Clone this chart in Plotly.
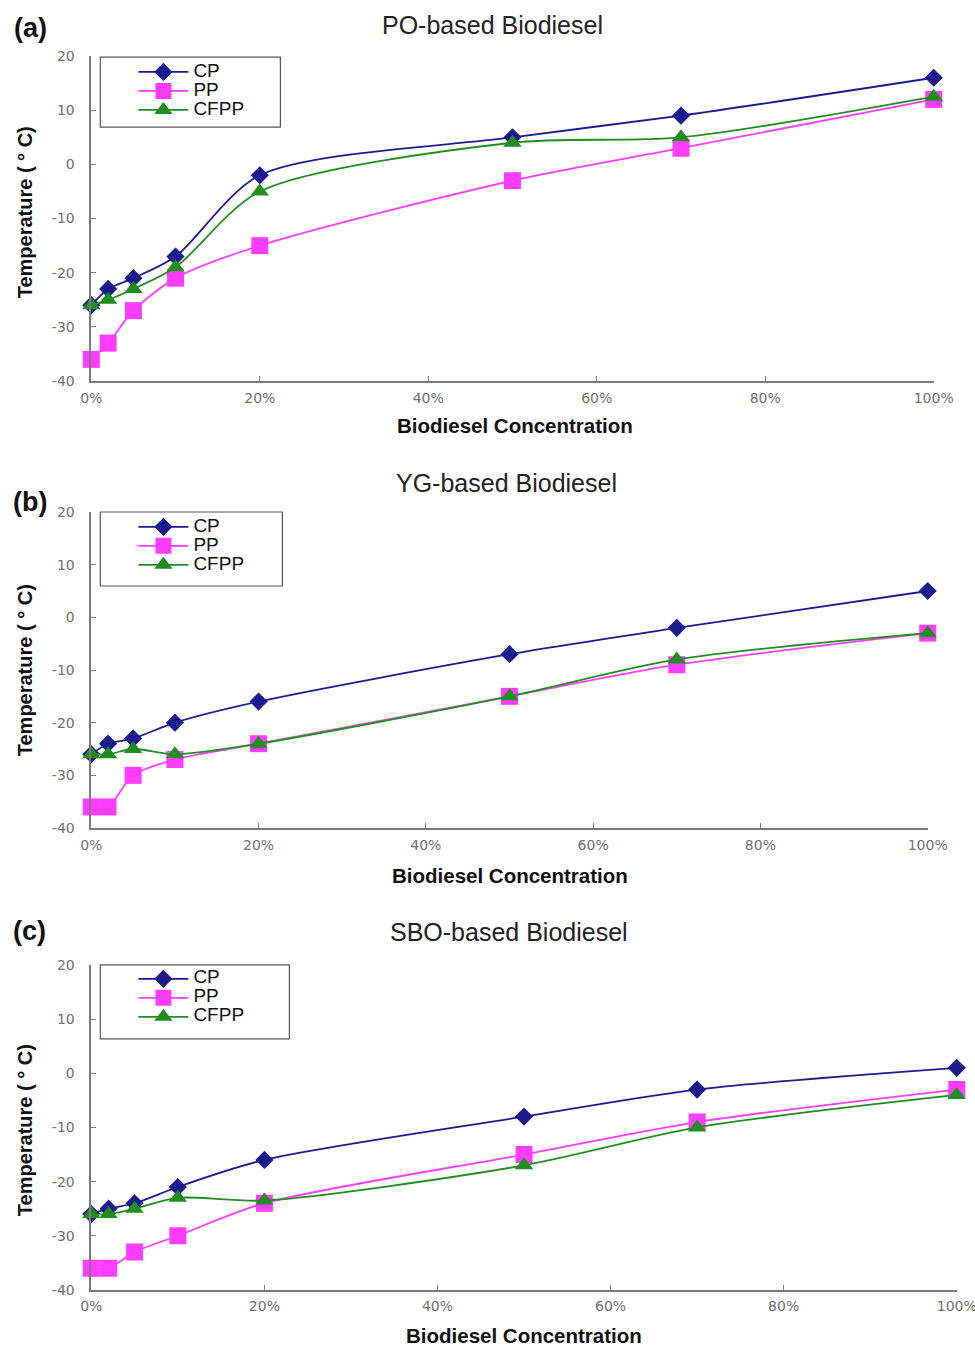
import plotly.graph_objects as go

# The captured page region (1007x1367 CSS px) is shown at 975x1351; the body keeps an 8px margin.
SX, SY = 975 / 1007, 1351 / 1367
OFF = 8
FW, FH = 991, 1351

conc = [0, 2, 5, 10, 20, 50, 70, 100]
series_names = ["CP", "PP", "CFPP"]

po_cp = [-26, -23, -21, -17, -2, 5, 9, 16]
po_pp = [-36, -33, -27, -21, -15, -3, 3, 12]
po_cfpp = [-26, -25, -23, -19, -5, 4, 5, 12.5]

yg_cp = [-26, -24, -23, -20, -16, -7, -2, 5]
yg_pp = [-36, -36, -30, -27, -24, -15, -9, -3]
yg_cfpp = [-26, -26, -25, -26, -24, -15, -8, -3]

sbo_cp = [-26, -25, -24, -21, -16, -8, -3, 1]
sbo_pp = [-36, -36, -33, -30, -24, -15, -9, -3]
sbo_cfpp = [-26, -26, -25, -23, -23.5, -17, -10, -4]

panel_titles = ["PO-based Biodiesel", "YG-based Biodiesel", "SBO-based Biodiesel"]
panel_labels = ["(a)", "(b)", "(c)"]
x_ticks = [0, 20, 40, 60, 80, 100]
x_ticktext = ["0%", "20%", "40%", "60%", "80%", "100%"]
y_ticks = [-40, -30, -20, -10, 0, 10, 20]
y_ticktext = ["-40", "-30", "-20", "-10", "0", "10", "20"]

panels = [
    (po_cp, po_pp, po_cfpp),
    (yg_cp, yg_pp, yg_cfpp),
    (sbo_cp, sbo_pp, sbo_cfpp),
]

colors = ["#1c1a8c", "#ff3cff", "#218c21"]
symbols = ["diamond", "square", "triangle-up"]
msizes = [14, 17, 16]

# positions in picture pixels (left, right, top, bottom)
boxes = [(88, 930, 56, 381), (88, 924, 512, 828), (88, 953, 965, 1290)]
legend_boxes = [(97, 277, 57, 127), (97, 279, 512, 586), (97, 286, 965, 1039)]
legend_first_row = [70, 525, 977]
title_pos = [(489, 25), (503, 483), (505, 932)]
label_pos = [(27, 28), (27, 502), (26, 931)]
xtitle_pos = [(511, 425), (506, 876), (520, 1336)]
ytitle_y = [212, 670, 1130]

def fx(x):
    return (x / SX - OFF) / FW

def fy(y):
    return 1 - (y / SY - OFF) / FH

fig = go.Figure()
FONT = "Liberation Sans, Arial, sans-serif"
TICKFONT = "DejaVu Sans, Verdana, sans-serif"

for i, vals in enumerate(panels):
    suffix = "" if i == 0 else str(i + 1)
    lg = "legend" if i == 0 else f"legend{i+1}"
    for j, v in enumerate(vals):
        fig.add_trace(go.Scatter(
            x=conc, y=v, mode="lines+markers",
            name='<span style="font-size:19px">' + series_names[j] + "</span>",
            line=dict(color=colors[j], width=1.8, shape="spline", smoothing=0.8),
            marker=dict(symbol=symbols[j], size=msizes[j], color=colors[j]),
            xaxis="x" + suffix, yaxis="y" + suffix, legend=lg, cliponaxis=False,
        ))
    l, r, t, b = boxes[i]
    axcommon = dict(showgrid=False, zeroline=False, showline=True, linecolor="#7a7a7a",
                    linewidth=1.5, ticks="inside", ticklen=5, tickcolor="#7a7a7a",
                    tickfont=dict(family=TICKFONT, size=14, color="#707070"))
    fig.update_layout(**{
        "xaxis" + suffix: dict(domain=[fx(l), fx(r)], range=[0, 100], tickvals=x_ticks,
                               ticktext=x_ticktext, anchor="y" + suffix,
                               ticklabelstandoff=3, **axcommon),
        "yaxis" + suffix: dict(domain=[fy(b), fy(t)], range=[-40, 20], tickvals=y_ticks,
                               ticktext=y_ticktext, anchor="x" + suffix,
                               ticklabelstandoff=12, **axcommon),
    })
    lx0, lx1, ly0, ly1 = legend_boxes[i]
    fig.add_shape(type="rect", xref="paper", yref="paper", x0=fx(lx0), x1=fx(lx1),
                  y0=fy(ly1), y1=fy(ly0), line=dict(color="#555", width=1.2))
    fig.update_layout(**{lg: dict(x=fx(193) - 65 / FW,
                                   y=fy(legend_first_row[i]) + 12.8 / FH,
                                   xanchor="left", yanchor="top",
                                   bgcolor="rgba(0,0,0,0)", borderwidth=0, itemwidth=50,
                                   font=dict(family=FONT, size=12, color="#111"),
                                   tracegroupgap=0)})
    fig.add_annotation(text=panel_titles[i], x=fx(title_pos[i][0]), y=fy(title_pos[i][1]),
                       xref="paper", yref="paper", showarrow=False,
                       xanchor="center", yanchor="middle",
                       font=dict(family=FONT, size=25, color="#222"))
    fig.add_annotation(text="<b>" + panel_labels[i] + "</b>", x=fx(label_pos[i][0]), y=fy(label_pos[i][1]),
                       xref="paper", yref="paper", showarrow=False,
                       xanchor="center", yanchor="middle",
                       font=dict(family=FONT, size=27, color="#111"))
    fig.add_annotation(text="<b>Biodiesel Concentration</b>", x=fx(xtitle_pos[i][0]), y=fy(xtitle_pos[i][1]),
                       xref="paper", yref="paper", showarrow=False,
                       xanchor="center", yanchor="middle",
                       font=dict(family=FONT, size=20.5, color="#111"))
    fig.add_annotation(text="<b>Temperature ( ° C)</b>", x=fx(22), y=fy(ytitle_y[i]), textangle=-90,
                       xref="paper", yref="paper", showarrow=False,
                       xanchor="center", yanchor="middle",
                       font=dict(family=FONT, size=20, color="#111"))

fig.update_layout(width=FW, height=FH, margin=dict(l=0, r=0, t=0, b=0),
                  plot_bgcolor="white", paper_bgcolor="white", showlegend=True)

fig.write_html("out.html")
